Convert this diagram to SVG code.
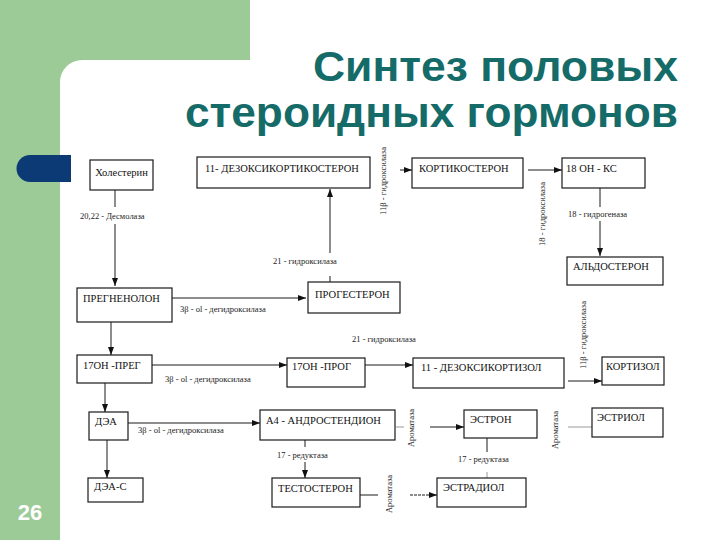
<svg xmlns="http://www.w3.org/2000/svg" width="720" height="540" viewBox="0 0 720 540">
<defs>
<marker id="ah" viewBox="0 0 8 6" refX="8" refY="3" markerWidth="8" markerHeight="6" markerUnits="userSpaceOnUse" orient="auto">
<path d="M0,0 L8,3 L0,6 Z" fill="#111"/>
</marker>
<style>
.box{fill:#fff;stroke:#1a1a1a;stroke-width:1.2}
.nt{font-family:'Liberation Serif','Times New Roman',serif;font-size:10.5px;fill:#111}
.et{font-family:'Liberation Serif','Times New Roman',serif;font-size:8.5px;fill:#222}
.ln{stroke:#1a1a1a;stroke-width:1;fill:none}
.lg{stroke:#999;stroke-width:1;fill:none}
.ar{marker-end:url(#ah)}
.title{font-family:'Liberation Sans',Arial,sans-serif;font-size:43px;font-weight:bold;fill:#156b68;text-anchor:end}
</style>
</defs>
<rect x="0" y="0" width="720" height="540" fill="#fff"/>
<path d="M0,0 H250 V60 H82 A22,22 0 0 0 60,82 V540 H0 Z" fill="#9dcb97"/>
<path d="M30,155 H71 V182 H30 A13.5,13.5 0 0 1 30,155 Z" fill="#0c3a74"/>
<text x="30" y="520" font-family="'Liberation Sans',Arial,sans-serif" font-size="22" font-weight="bold" fill="#fff" text-anchor="middle">26</text>
<text class="title" x="678" y="81" textLength="365" lengthAdjust="spacingAndGlyphs">Синтез половых</text>
<text class="title" x="678" y="127" textLength="493" lengthAdjust="spacingAndGlyphs">стероидных гормонов</text>

<g id="connectors">
<line class="ln" x1="115" y1="190" x2="115" y2="207"/>
<line class="ln ar" x1="115" y1="224" x2="115" y2="286"/>
<text class="et" x="80" y="219">20,22 - Десмолаза</text>
<line class="ln ar" x1="172" y1="298" x2="306" y2="298"/>
<text class="et" x="180" y="312">3β - ol - дегидроксилаза</text>
<line class="ln" x1="330" y1="282" x2="330" y2="276"/>
<line class="ln ar" x1="330" y1="253" x2="330" y2="189"/>
<text class="et" x="273" y="264">21 - гидроксилаза</text>
<line class="ln ar" x1="400" y1="170" x2="412" y2="170"/>
<text class="et" transform="translate(386,181) rotate(-90)" text-anchor="middle">11β - гидроксилаза</text>
<line class="ln ar" x1="528" y1="170" x2="562" y2="170"/>
<text class="et" transform="translate(545,214) rotate(-90)" text-anchor="middle">18 - гидроксилаза</text>
<line class="ln" x1="600" y1="188" x2="600" y2="207"/>
<line class="ln ar" x1="600" y1="221" x2="600" y2="256"/>
<text class="et" x="568" y="217">18 - гидрогеназа</text>
<line class="ln ar" x1="111" y1="322" x2="111" y2="355"/>
<line class="ln ar" x1="152" y1="365" x2="287" y2="365"/>
<text class="et" x="165" y="382">3β - ol - дегидроксилаза</text>
<line class="ln ar" x1="365" y1="365" x2="413" y2="365"/>
<text class="et" x="352" y="342">21 - гидроксилаза</text>
<line class="ln ar" x1="568" y1="381" x2="602" y2="381"/>
<text class="et" transform="translate(586,335) rotate(-90)" text-anchor="middle">11β - гидроксилаза</text>
<line class="ln ar" x1="105" y1="383" x2="105" y2="412"/>
<line class="ln ar" x1="128" y1="423" x2="260" y2="423"/>
<text class="et" x="138" y="433">3β - ol - дегидроксилаза</text>
<line class="ln ar" x1="107" y1="440" x2="107" y2="478"/>
<line class="ln" x1="305" y1="440" x2="305" y2="447"/>
<line class="ln ar" x1="305" y1="462" x2="305" y2="478"/>
<text class="et" x="277" y="458">17 - редуктаза</text>
<line class="lg" x1="396" y1="427" x2="404" y2="427"/>
<text class="et" transform="translate(414,428) rotate(-90)" text-anchor="middle">Ароматаза</text>
<line class="ln ar" x1="430" y1="427" x2="464" y2="427"/>
<text class="et" transform="translate(558,430) rotate(-90)" text-anchor="middle">Ароматаза</text>
<line class="lg" x1="568" y1="427" x2="592" y2="427"/>
<line class="ln" x1="487" y1="438" x2="487" y2="452"/>
<line class="lg" x1="487" y1="472" x2="487" y2="478"/>
<text class="et" x="458" y="462">17 - редуктаза</text>
<line class="ln" x1="360" y1="495" x2="378" y2="495"/>
<text class="et" transform="translate(392,494) rotate(-90)" text-anchor="middle">Ароматаза</text>
<line class="ln ar" x1="410" y1="495" x2="437" y2="495" stroke-dasharray="3,1"/>
</g>

<g id="n-cholesterol"><rect class="box" x="90" y="160" width="63" height="30"/><text class="nt" x="121.5" y="176" text-anchor="middle">Холестерин</text></g>
<g id="n-pregnenolone"><rect class="box" x="77" y="288" width="95" height="34"/><text class="nt" x="83" y="302">ПРЕГНЕНОЛОН</text></g>
<g id="n-doc"><rect class="box" x="197" y="157" width="173" height="31"/><text class="nt" x="205" y="172">11- ДЕЗОКСИКОРТИКОСТЕРОН</text></g>
<g id="n-progesterone"><rect class="box" x="308" y="282" width="92" height="31"/><text class="nt" x="315" y="298">ПРОГЕСТЕРОН</text></g>
<g id="n-corticosterone"><rect class="box" x="412" y="158" width="111" height="30"/><text class="nt" x="419" y="172">КОРТИКОСТЕРОН</text></g>
<g id="n-18oh"><rect class="box" x="562" y="158" width="83" height="30"/><text class="nt" x="566" y="172">18 ОН - КС</text></g>
<g id="n-aldosterone"><rect class="box" x="567" y="257" width="96" height="28"/><text class="nt" x="573" y="270">АЛЬДОСТЕРОН</text></g>
<g id="n-17oh-preg"><rect class="box" x="77" y="355" width="75" height="28"/><text class="nt" x="83" y="369">17ОН -ПРЕГ</text></g>
<g id="n-17oh-prog"><rect class="box" x="287" y="358" width="78" height="29"/><text class="nt" x="292" y="370">17ОН -ПРОГ</text></g>
<g id="n-11dc"><rect class="box" x="413" y="358" width="151" height="30"/><text class="nt" x="421" y="371">11 - ДЕЗОКСИКОРТИЗОЛ</text></g>
<g id="n-cortisol"><rect class="box" x="602" y="357" width="62" height="28"/><text class="nt" x="606" y="370">КОРТИЗОЛ</text></g>
<g id="n-dhea"><rect class="box" x="89" y="412" width="39" height="28"/><text class="nt" x="95" y="425">ДЭА</text></g>
<g id="n-androstenedione"><rect class="box" x="260" y="410" width="135" height="30"/><text class="nt" x="266" y="424">А4 - АНДРОСТЕНДИОН</text></g>
<g id="n-estrone"><rect class="box" x="464" y="410" width="73" height="28"/><text class="nt" x="470" y="423">ЭСТРОН</text></g>
<g id="n-estriol"><rect class="box" x="592" y="408" width="71" height="29"/><text class="nt" x="597" y="421">ЭСТРИОЛ</text></g>
<g id="n-dhea-s"><rect class="box" x="88" y="478" width="55" height="24"/><text class="nt" x="94" y="490">ДЭА-С</text></g>
<g id="n-testosterone"><rect class="box" x="272" y="478" width="88" height="29"/><text class="nt" x="278" y="492">ТЕСТОСТЕРОН</text></g>
<g id="n-estradiol"><rect class="box" x="437" y="478" width="89" height="29"/><text class="nt" x="443" y="491">ЭСТРАДИОЛ</text></g>
</svg>
